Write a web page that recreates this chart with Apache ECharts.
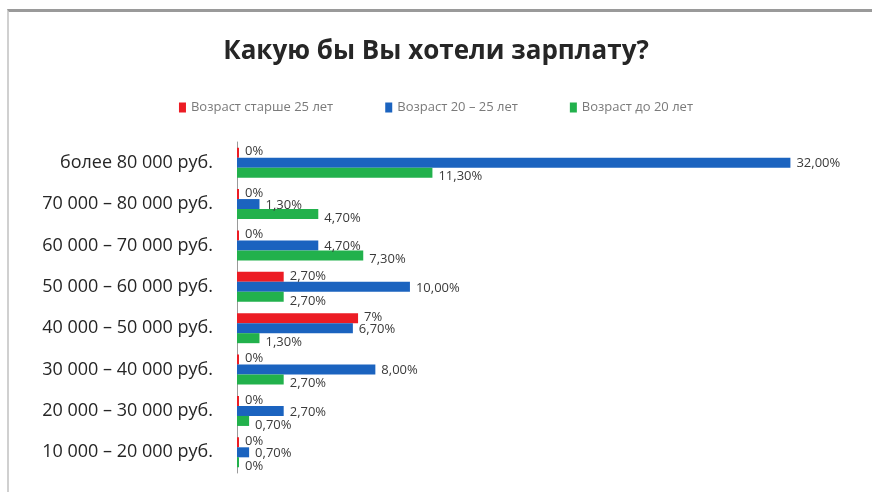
<!DOCTYPE html>
<html>
<head>
<meta charset="utf-8">
<script src="https://cdn.jsdelivr.net/npm/echarts@6/dist/echarts.min.js"></script>
<style>
  html, body { margin: 0; padding: 0; background: #fff; }
  #frame { position: absolute; left: 7px; top: 9px; width: 865px; height: 483px;
           border-top: 3px solid #9a9a9a; border-left: 2px solid #d0d0d0; box-sizing: border-box; }
  #grid { position: absolute; left: 0; top: 0; width: 872px; height: 492px; }
</style>
</head>
<body>
<div id="frame"></div>
<div id="grid"></div>
<script>
// categories, top to bottom
let categories = [
    'более 80 000 руб.',
    '70 000 – 80 000 руб.',
    '60 000 – 70 000 руб.',
    '50 000 – 60 000 руб.',
    '40 000 – 50 000 руб.',
    '30 000 – 40 000 руб.',
    '20 000 – 30 000 руб.',
    '10 000 – 20 000 руб.'
];
let seriesNames = ['Возраст старше 25 лет', 'Возраст 20 – 25 лет', 'Возраст до 20 лет'];
let over25 = [0, 0, 0, 2.7, 7, 0, 0, 0];
let from20to25 = [32, 1.3, 4.7, 10, 6.7, 8, 2.7, 0.7];
let under20 = [11.3, 4.7, 7.3, 2.7, 1.3, 2.7, 0.7, 0];
let colors = ['#ec1c24', '#1b63bf', '#22b14c'];

function fmt(p) {
    let v = p.value;
    if (v === 0) return '0%';
    if (v === 7) return '7%';
    return v.toFixed(2).replace('.', ',') + '%';
}

function makeSeries(name, data, color, offset) {
    return {
        name: name,
        type: 'bar',
        data: data,
        barWidth: 10,
        barGap: '0%',
        barMinHeight: 2,
        itemStyle: { color: color },
        label: {
            show: true,
            position: 'right',
            distance: 6,
            offset: offset,
            formatter: fmt,
            color: '#3a3a3a',
            fontFamily: 'Open Sans',
            fontSize: 13
        }
    };
}

option = {
    animation: false,
    backgroundColor: 'transparent',
    title: {
        text: 'Какую бы Вы хотели зарплату?',
        left: 'center',
        top: 34,
        textStyle: {
            fontFamily: 'Open Sans',
            fontWeight: 'bold',
            fontSize: 26,
            color: '#262626'
        }
    },
    legend: {
        top: 96,
        left: 'center',
        itemWidth: 7,
        itemHeight: 10,
        itemGap: 52,
        icon: 'rect',
        textStyle: {
            fontFamily: 'Open Sans',
            fontSize: 13,
            color: '#7a7a7a'
        },
        data: seriesNames
    },
    grid: {
        left: 237,
        right: 47,
        top: 142,
        bottom: 19
    },
    xAxis: {
        type: 'value',
        min: 0,
        max: 34,
        show: false
    },
    yAxis: {
        type: 'category',
        inverse: true,
        data: categories,
        axisLine: { lineStyle: { color: '#9a9a9a', width: 1 } },
        axisTick: { show: false },
        axisLabel: {
            margin: 24,
            fontFamily: 'Open Sans',
            fontSize: 18,
            color: '#262626'
        }
    },
    series: [
        makeSeries(seriesNames[0], over25, colors[0], [0, -1]),
        makeSeries(seriesNames[1], from20to25, colors[1], [0, 1]),
        makeSeries(seriesNames[2], under20, colors[2], [0, 4])
    ]
};

let myChart = echarts.init(document.getElementById('grid'));
myChart.setOption(option);
</script>
</body>
</html>
